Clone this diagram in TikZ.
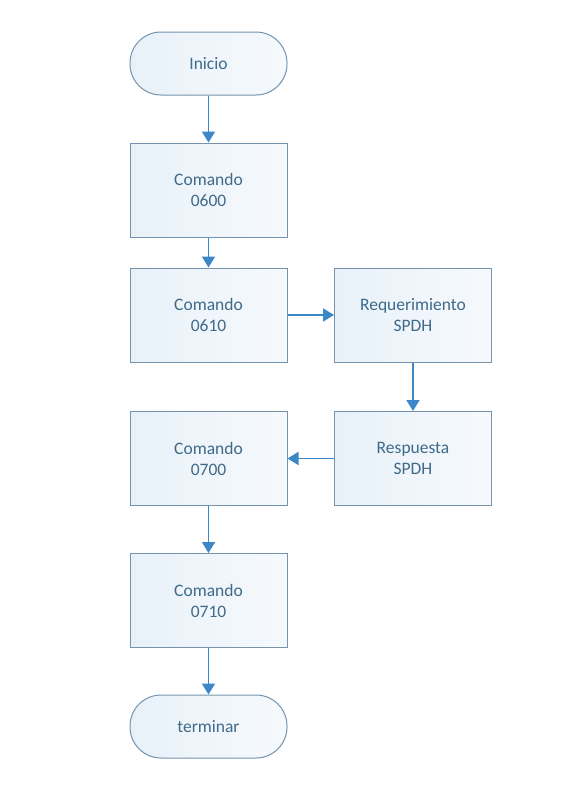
\documentclass[tikz,border=0pt]{standalone}
\usepackage{fontspec}
\setmainfont{Carlito}
\usetikzlibrary{arrows.meta,positioning}
\definecolor{txt}{HTML}{3F6A8A}
\definecolor{edge}{HTML}{7593AD}
\definecolor{arr}{HTML}{3B87C8}
\definecolor{fillA}{HTML}{E8F1F9}
\tikzset{
  base/.style={draw=edge, line width=1pt, text=txt, font=\fontsize{17.5}{21}\selectfont,
    align=center, inner sep=0pt, left color=fillA, right color=white!60!fillA},
  procbox/.style={base, rectangle, minimum width=157pt, minimum height=94pt},
  termbox/.style={base, rectangle, rounded corners=31pt, minimum width=157pt, minimum height=63pt},
  flow/.style={draw=arr, line width=1.8pt, -{Triangle[width=13pt,length=11pt]}}
}
\begin{document}
\begin{tikzpicture}[x=1pt,y=1pt]
\useasboundingbox (0,0) rectangle (567,-785);
\node[termbox] (inicio) at (208.5,-63.5) {Inicio};
\node[procbox] (c600) at (208.5,-190) {Comando\\0600};
\node[procbox] (c610) at (208.5,-315) {Comando\\0610};
\node[procbox] (req) at (413,-315) {Requerimiento\\SPDH};
\node[procbox] (resp) at (413,-458.5) {Respuesta\\SPDH};
\node[procbox] (c700) at (208.5,-458.5) {Comando\\0700};
\node[procbox] (c710) at (208.5,-600.5) {Comando\\0710};
\node[termbox] (term) at (208.5,-726.5) {terminar};
\draw[flow] (inicio) -- (c600);
\draw[flow] (c600) -- (c610);
\draw[flow] (c610) -- (req);
\draw[flow] (req) -- (resp);
\draw[flow] (resp) -- (c700);
\draw[flow] (c700) -- (c710);
\draw[flow] (c710) -- (term);
\end{tikzpicture}
\end{document}
